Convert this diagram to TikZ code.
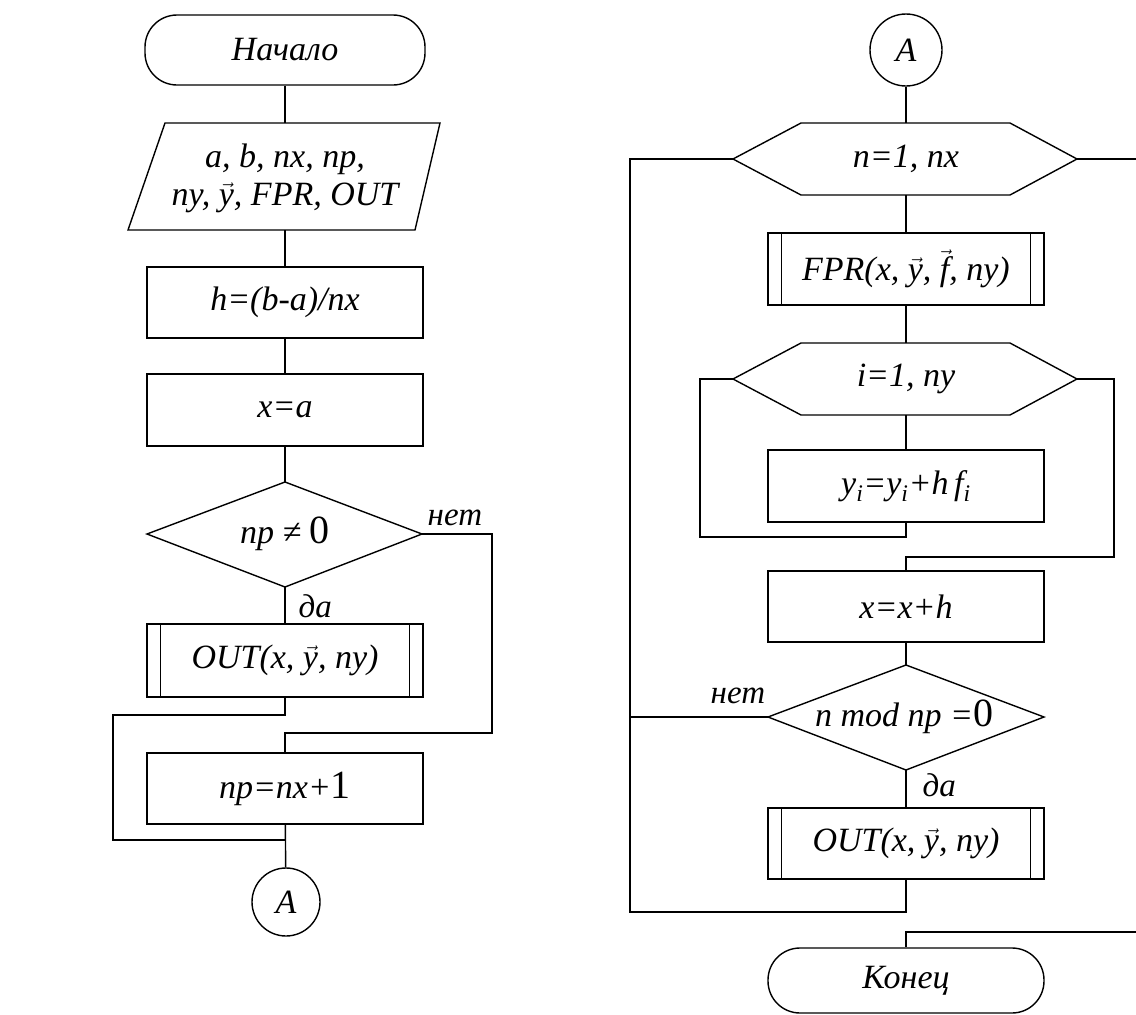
\documentclass[tikz,border=0pt]{standalone}
\usepackage{fontspec}
\setmainfont{Liberation Serif}
\usetikzlibrary{calc}
\newcommand{\vy}{\ensuremath{\vec{\mbox{\itshape y}}}}
\newcommand{\vf}{\ensuremath{\vec{\mbox{\itshape f}}}}
\newcommand{\upn}[1]{{\upshape\fontsize{40}{44}\selectfont #1}}
\begin{document}
\begin{tikzpicture}[x=1pt,y=-1pt, line width=1.4pt,
  txt/.style={font=\fontsize{34}{38}\selectfont\itshape, inner sep=0pt},
  box/.style={txt, draw, minimum width=276pt, minimum height=72pt},
  term/.style={box, rounded corners=32pt},
  conn/.style={txt, draw, circle, minimum size=70pt},
  lbl/.style={font=\fontsize{33}{36}\selectfont\itshape, inner sep=0pt, anchor=base west}]
\useasboundingbox (0,0) rectangle (1136,1015);

% ---------------- left column ----------------
\node[term, minimum width=280pt, minimum height=70pt] (start) at (285,50) {Начало};

\coordinate (inN) at (285,123);
\coordinate (inS) at (285,230);
\draw (165,123) -- (440,123) -- (415,230) -- (128,230) -- cycle;
\node[txt, align=center] (in) at (285,178) {a, b, nx, np,\\ny, \vy, FPR, OUT};

\node[box, minimum height=71pt] (h) at (285,302.5) {h=(b-a)/nx};
\node[box] (xa) at (285,410) {x=a};

\coordinate (d1n) at (285,482);
\coordinate (d1e) at (422,534);
\coordinate (d1s) at (285,587);
\coordinate (d1w) at (147,534);
\draw (d1n) -- (d1e) -- (d1s) -- (d1w) -- cycle;
\node[txt] (d1) at (285,534) {np ≠ \upn{0}};

\node[box, minimum height=73pt] (o1) at (285,660.5) {OUT(x, \vy, ny)};
\draw ([xshift=14pt]o1.north west) -- ([xshift=14pt]o1.south west);
\draw ([xshift=-14pt]o1.north east) -- ([xshift=-14pt]o1.south east);

\node[box, minimum height=71pt] (np) at (285,788.5) {np=nx+\upn{1}};
\node[conn, minimum size=68pt] (A1) at (286,902) {A};

\node[lbl] (net1) at (427,525) {нет};
\node[lbl] (da1) at (298,617) {да};

\coordinate (r1) at (492,534);
\coordinate (j1) at (285,733);
\coordinate (j2) at (285,715);
\coordinate (l1) at (113,715);
\coordinate (j3) at (285,840);

\draw (start) -- (inN);
\draw (inS) -- (h);
\draw (h) -- (xa);
\draw (xa) -- (d1n);
\draw (d1s) -- (o1);
\draw (d1e) -- (r1) |- (j1) -- (np);
\draw (o1) -- (j2) -- (l1) |- (j3);
\draw (np) -- (A1);

% ---------------- right column ----------------
\node[conn, minimum size=72pt] (A2) at (906,50) {A};

\coordinate (h1w) at (733,159);
\coordinate (h1e) at (1077,159);
\coordinate (h1n) at (906,123);
\coordinate (h1s) at (906,195);
\draw (h1w) -- ++(68,-36) -- ++(209,0) -- (h1e) -- ++(-67,36) -- ++(-209,0) -- cycle;
\node[txt] (c1) at (906,159) {n=1, nx};

\node[box] (fpr) at (906,269) {FPR(x, \vy, \vf, ny)};
\draw ([xshift=14pt]fpr.north west) -- ([xshift=14pt]fpr.south west);
\draw ([xshift=-14pt]fpr.north east) -- ([xshift=-14pt]fpr.south east);

\coordinate (h2w) at (733,379);
\coordinate (h2e) at (1077,379);
\coordinate (h2n) at (906,343);
\coordinate (h2s) at (906,415);
\draw (h2w) -- ++(68,-36) -- ++(209,0) -- (h2e) -- ++(-67,36) -- ++(-209,0) -- cycle;
\node[txt] (c2) at (906,379) {i=1, ny};

\node[box] (yi) at (906,486) {y\textsubscript{i}=y\textsubscript{i}+h\,f\textsubscript{i}};

\node[box, minimum height=71pt] (xx) at (906,606.5) {x=x+h};

\coordinate (d2n) at (906,665);
\coordinate (d2e) at (1044,717);
\coordinate (d2s) at (906,770);
\coordinate (d2w) at (768,717);
\draw (d2n) -- (d2e) -- (d2s) -- (d2w) -- cycle;
\node[txt] (d2) at (904,717) {n mod np =\upn{0}};

\node[box, minimum height=71pt] (o2) at (906,843.5) {OUT(x, \vy, ny)};
\draw ([xshift=14pt]o2.north west) -- ([xshift=14pt]o2.south west);
\draw ([xshift=-14pt]o2.north east) -- ([xshift=-14pt]o2.south east);

\node[term, minimum height=65pt] (end) at (906,980.5) {Конец};

\node[lbl] (net2) at (710,703) {нет};
\node[lbl] (da2) at (922,796) {да};

\coordinate (q1) at (700,379);
\coordinate (q2) at (906,537);
\coordinate (q3) at (1114,379);
\coordinate (q4) at (906,557);
\coordinate (q5) at (906,912);
\coordinate (q6) at (630,159);
\coordinate (q7) at (630,717);
\coordinate (q8) at (1136,159);
\coordinate (q9) at (1136,932);
\coordinate (q10) at (906,932);

\draw (A2) -- (h1n);
\draw (h1s) -- (fpr);
\draw (fpr) -- (h2n);
\draw (h2s) -- (yi);
\draw (h2w) -- (q1) |- (q2) -- (yi);
\draw (h2e) -- (q3) |- (q4) -- (xx);
\draw (xx) -- (d2n);
\draw (d2s) -- (o2);
\draw (o2) -- (q5) -| (q6) -- (h1w);
\draw (d2w) -- (q7);
\draw (h1e) -- (q8);
\draw (q9) -- (q10) -- (end);
\end{tikzpicture}
\end{document}
